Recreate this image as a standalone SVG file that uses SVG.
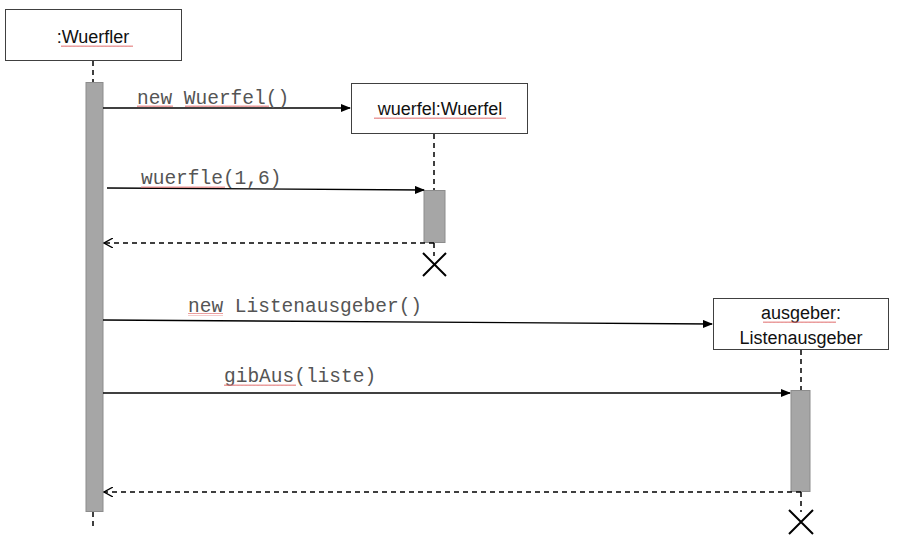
<svg xmlns="http://www.w3.org/2000/svg" width="900" height="556" viewBox="0 0 900 556">
<style>
.box{fill:#fff;stroke:#404040;stroke-width:1}
.bar{fill:#a6a6a6;stroke:#8c8c8c;stroke-width:1}
.life{stroke:#000;stroke-width:1.5;stroke-dasharray:5,4;fill:none}
.msg{stroke:#000;stroke-width:1.3;fill:none}
.ret{stroke:#000;stroke-width:1.3;stroke-dasharray:5,4;fill:none}
.x{stroke:#000;stroke-width:2;fill:none}
.lbl{font-family:"Liberation Mono","Courier New",monospace;font-size:19.5px;fill:#555}
.nm{font-family:"Liberation Sans",Arial,sans-serif;font-size:18px;fill:#111;text-anchor:middle}
.sq{stroke:#e07070;stroke-width:0.8;fill:none}
</style>
<defs>
<marker id="fill" markerWidth="10" markerHeight="8" refX="9" refY="4" orient="auto" markerUnits="userSpaceOnUse">
<path d="M0,0 L10,4 L0,8 Z" fill="#000"/>
</marker>
<marker id="open" markerWidth="10" markerHeight="10" refX="9" refY="5" orient="auto" markerUnits="userSpaceOnUse">
<path d="M0,0 L9,5 L0,10" fill="none" stroke="#000" stroke-width="1.3"/>
</marker>
<pattern id="wave" width="4" height="3" patternUnits="userSpaceOnUse">
<path d="M0,2 L1,0.5 L2,2 L3,0.5 L4,2" class="sq"/>
</pattern>
</defs>

<g id="wuerfler">
<rect class="box" x="5.5" y="9.5" width="176" height="51"/>
<text class="nm" x="93" y="43">:Wuerfler</text>
<rect x="61" y="45" width="72" height="3" fill="url(#wave)"/>
<line class="life" x1="93" y1="61" x2="93" y2="82"/>
<rect class="bar" x="86" y="82.5" width="17" height="429"/>
<line class="life" x1="93" y1="512" x2="93" y2="526"/>
</g>

<g id="wuerfel">
<rect class="box" x="351.5" y="83.5" width="176" height="50"/>
<text class="nm" x="440" y="115">wuerfel:Wuerfel</text>
<rect x="374" y="117" width="132" height="3" fill="url(#wave)"/>
<line class="life" x1="434" y1="134" x2="434" y2="190"/>
<rect class="bar" x="424" y="190.5" width="21" height="52"/>
<line class="life" x1="434" y1="243" x2="434" y2="256"/>
<path class="x" d="M423,253 L446,276 M446,253 L423,276"/>
</g>

<g id="ausgeber">
<rect class="box" x="713.5" y="298.5" width="175" height="51"/>
<text class="nm" x="801" y="319">ausgeber:</text>
<rect x="763" y="321" width="73" height="3" fill="url(#wave)"/>
<text class="nm" x="801" y="344">Listenausgeber</text>
<line class="life" x1="801" y1="350" x2="801" y2="390"/>
<rect class="bar" x="791" y="390.5" width="19" height="101"/>
<line class="life" x1="801" y1="492" x2="801" y2="512"/>
<path class="x" d="M789,510 L813,534 M813,510 L789,534"/>
</g>

<g id="connectors">
<line class="msg" x1="103" y1="108" x2="350" y2="108" marker-end="url(#fill)"/>
<text class="lbl" x="137" y="104">new Wuerfel()</text>
<rect x="137" y="105" width="36" height="3" fill="url(#wave)"/>
<rect x="185" y="105" width="84" height="3" fill="url(#wave)"/>

<line class="msg" x1="107" y1="188" x2="424" y2="190" marker-end="url(#fill)"/>
<text class="lbl" x="141" y="184">wuerfle(1,6)</text>
<rect x="141" y="185" width="84" height="3" fill="url(#wave)"/>

<line class="ret" x1="434" y1="243" x2="104" y2="243" marker-end="url(#open)"/>

<line class="msg" x1="103" y1="320" x2="712" y2="324" marker-end="url(#fill)"/>
<text class="lbl" x="188" y="312">new Listenausgeber()</text>
<rect x="188" y="313" width="35" height="3" fill="url(#wave)"/>

<line class="msg" x1="103" y1="393" x2="790" y2="393" marker-end="url(#fill)"/>
<text class="lbl" x="224" y="382">gibAus(liste)</text>
<rect x="224" y="383" width="72" height="3" fill="url(#wave)"/>

<line class="ret" x1="801" y1="492" x2="104" y2="492" marker-end="url(#open)"/>
</g>
</svg>
